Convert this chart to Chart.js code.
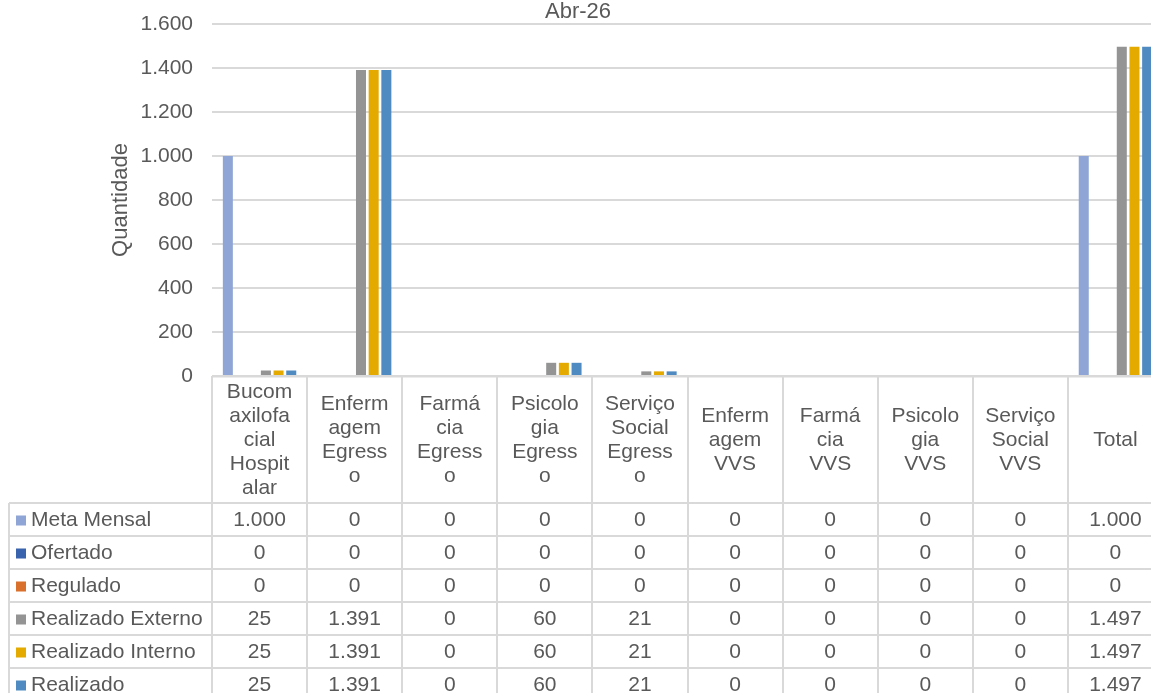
<!DOCTYPE html>
<html>
<head>
<meta charset="utf-8">
<script src="https://cdn.jsdelivr.net/npm/chart.js@4/dist/chart.umd.min.js"></script>
<style>
  html, body { margin: 0; padding: 0; background: #fff; overflow: hidden; }
  #wrap { width: 1151px; height: 693px; overflow: hidden; }
</style>
</head>
<body>
<div id="wrap"><canvas id="c" width="1164" height="693"></canvas></div>
<script>
// Categories, wrapped the way the spreadsheet wraps them in the table header
const categories = [
  ["Bucom", "axilofa", "cial", "Hospit", "alar"],
  ["Enferm", "agem", "Egress", "o"],
  ["Farmá", "cia", "Egress", "o"],
  ["Psicolo", "gia", "Egress", "o"],
  ["Serviço", "Social", "Egress", "o"],
  ["Enferm", "agem", "VVS"],
  ["Farmá", "cia", "VVS"],
  ["Psicolo", "gia", "VVS"],
  ["Serviço", "Social", "VVS"],
  ["Total"],
];

const seriesNames = ["Meta Mensal", "Ofertado", "Regulado", "Realizado Externo", "Realizado Interno", "Realizado"];
const seriesColors = ["#8FA5D6", "#3A63AE", "#D9702B", "#949494", "#E4AA00", "#4F8BC0"];

const metaMensal       = [1000, 0, 0, 0, 0, 0, 0, 0, 0, 1000];
const ofertado         = [0, 0, 0, 0, 0, 0, 0, 0, 0, 0];
const regulado         = [0, 0, 0, 0, 0, 0, 0, 0, 0, 0];
const realizadoExterno = [25, 1391, 0, 60, 21, 0, 0, 0, 0, 1497];
const realizadoInterno = [25, 1391, 0, 60, 21, 0, 0, 0, 0, 1497];
const realizado        = [25, 1391, 0, 60, 21, 0, 0, 0, 0, 1497];

const seriesValues = [metaMensal, ofertado, regulado, realizadoExterno, realizadoInterno, realizado];

const TEXT = "#595959";
const LINE = "#d9d9d9";
const FAMILY = '"Liberation Sans", Arial, sans-serif';
const FONT = "21px " + FAMILY;

function fmt(n) {
  return String(n).replace(/\B(?=(\d{3})+(?!\d))/g, ".");
}

const tablePlugin = {
  id: "dataTable",
  afterDraw(chart) {
    const ctx = chart.ctx;
    const x = chart.scales.x;
    const area = chart.chartArea;
    const colW = x.width / categories.length;
    const top = area.bottom;        // 376
    const headBottom = 503;
    const rowH = 33;
    const tableLeft = 9;
    const bottom = headBottom + rowH * seriesNames.length;

    ctx.save();
    ctx.strokeStyle = LINE;
    ctx.lineWidth = 2;

    // header top line (only over the data columns)
    ctx.beginPath();
    ctx.moveTo(area.left, top + 0.5);
    ctx.lineTo(area.right, top + 0.5);
    ctx.stroke();

    // column lines
    for (let i = 0; i <= categories.length; i++) {
      const px = Math.round(area.left + i * colW);
      ctx.beginPath();
      ctx.moveTo(px, top);
      ctx.lineTo(px, bottom);
      ctx.stroke();
    }
    ctx.beginPath();
    ctx.moveTo(tableLeft, headBottom);
    ctx.lineTo(tableLeft, bottom);
    ctx.stroke();

    // row lines
    for (let r = 0; r <= seriesNames.length; r++) {
      const py = headBottom + r * rowH;
      ctx.beginPath();
      ctx.moveTo(tableLeft, py);
      ctx.lineTo(area.right, py);
      ctx.stroke();
    }

    ctx.fillStyle = TEXT;
    ctx.font = FONT;
    ctx.textAlign = "center";
    ctx.textBaseline = "middle";

    // header labels
    const lh = 24;
    const midHead = (top + headBottom) / 2 + 1;
    categories.forEach((lines, i) => {
      const cx = x.getPixelForValue(i);
      const y0 = midHead - (lines.length - 1) * lh / 2;
      lines.forEach((t, k) => ctx.fillText(t, cx, y0 + k * lh));
    });

    // rows
    seriesNames.forEach((name, r) => {
      const cy = headBottom + r * rowH + rowH / 2 + 1;
      ctx.fillStyle = seriesColors[r];
      ctx.fillRect(16, cy - 5, 10, 10);
      ctx.fillStyle = TEXT;
      ctx.textAlign = "left";
      ctx.fillText(name, 31, cy);
      ctx.textAlign = "center";
      seriesValues[r].forEach((v, i) => {
        ctx.fillText(fmt(v), x.getPixelForValue(i), cy);
      });
    });

    // chart title and axis title
    ctx.font = "22px " + FAMILY;
    ctx.fillText("Abr-26", 578, 12);
    ctx.translate(121, (area.top + area.bottom) / 2);
    ctx.rotate(-Math.PI / 2);
    ctx.fillText("Quantidade", 0, 0);
    ctx.restore();
  },
};

new Chart(document.getElementById("c"), {
  type: "bar",
  data: {
    labels: categories.map((l) => l.join(" ")),
    datasets: seriesNames.map((name, i) => ({
      label: name,
      data: seriesValues[i],
      backgroundColor: seriesColors[i],
      categoryPercentage: 0.8,
      barPercentage: 0.79,
    })),
  },
  options: {
    responsive: false,
    animation: false,
    layout: { padding: { left: 0, right: 1, top: 24, bottom: 0 } },
    plugins: { legend: { display: false }, title: { display: false }, tooltip: { enabled: false } },
    scales: {
      x: {
        ticks: { display: false },
        grid: { display: false },
        border: { display: false },
        afterFit(scale) { scale.height = 317; },
      },
      y: {
        min: 0,
        max: 1600,
        ticks: {
          stepSize: 200,
          color: TEXT,
          font: { family: FAMILY, size: 21 },
          padding: 19,
          callback: (v) => fmt(v),
        },
        grid: { color: LINE, lineWidth: 2, drawTicks: false },
        border: { display: false },
        afterFit(scale) {
          scale.width = 212;
          scale.paddingTop = 0;
          scale.paddingBottom = 0;
        },
      },
    },
  },
  plugins: [tablePlugin],
});
</script>
</body>
</html>
